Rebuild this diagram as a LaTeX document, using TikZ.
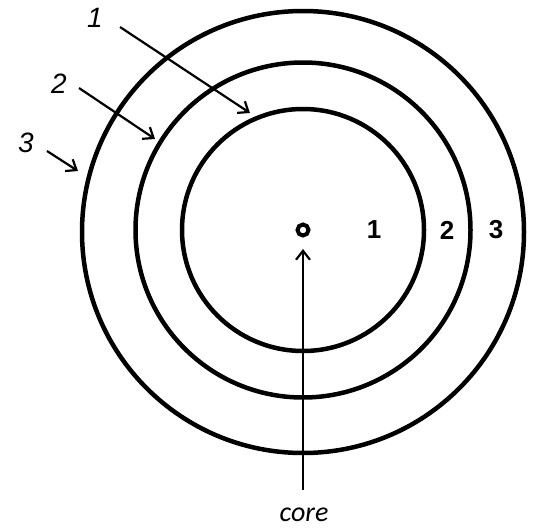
\documentclass[tikz,border=0pt]{standalone}
\usepackage{fontspec}
\setmainfont{Liberation Sans}
\newfontfamily\corefont{Carlito}
\usetikzlibrary{arrows.meta}
\begin{document}
\begin{tikzpicture}[x=1pt,y=-1pt,
  ring/.style={circle,draw,line width=4.5pt,inner sep=0pt},
  ptr/.style={line width=2.2pt,-{Straight Barb[length=9pt,width=14pt]}},
  sidelbl/.style={font=\fontsize{28}{32}\selectfont\itshape,inner sep=0pt},
  numlbl/.style={font=\fontsize{26}{30}\selectfont\bfseries,inner sep=0pt}]
\useasboundingbox (0,0) rectangle (535,528);
\node[ring,minimum size=242pt] (r1) at (303,230) {};
\node[ring,minimum size=335pt] (r2) at (303,230) {};
\node[ring,minimum size=442pt] (r3) at (303,232) {};
\node[circle,draw,line width=4pt,minimum size=11pt,inner sep=0pt] (core) at (303,230) {};
% labels in rings
\node[numlbl] (n1) at (374,230) {1};
\node[numlbl] (n2) at (447,230) {2};
\node[numlbl] (n3) at (496,230) {3};
% side labels
\node[sidelbl] (l1) at (95,18) {1};
\node[sidelbl] (l2) at (59,84) {2};
\node[sidelbl] (l3) at (26,143) {3};
\coordinate (s1) at (120,27);
\coordinate (e1) at (250,113);
\coordinate (s2) at (79,88);
\coordinate (e2) at (155,139);
\coordinate (s3) at (47,151);
\coordinate (e3) at (78,171);
\draw[ptr] (s1) -- (e1);
\draw[ptr] (s2) -- (e2);
\draw[ptr] (s3) -- (e3);
% core
\node[font=\fontsize{28}{32}\selectfont\corefont\itshape,inner sep=0pt] (ct) at (304,515) {core};
\coordinate (cs) at (303,490);
\coordinate (ce) at (303,249);
\draw[ptr] (cs) -- (ce);
\end{tikzpicture}
\end{document}
